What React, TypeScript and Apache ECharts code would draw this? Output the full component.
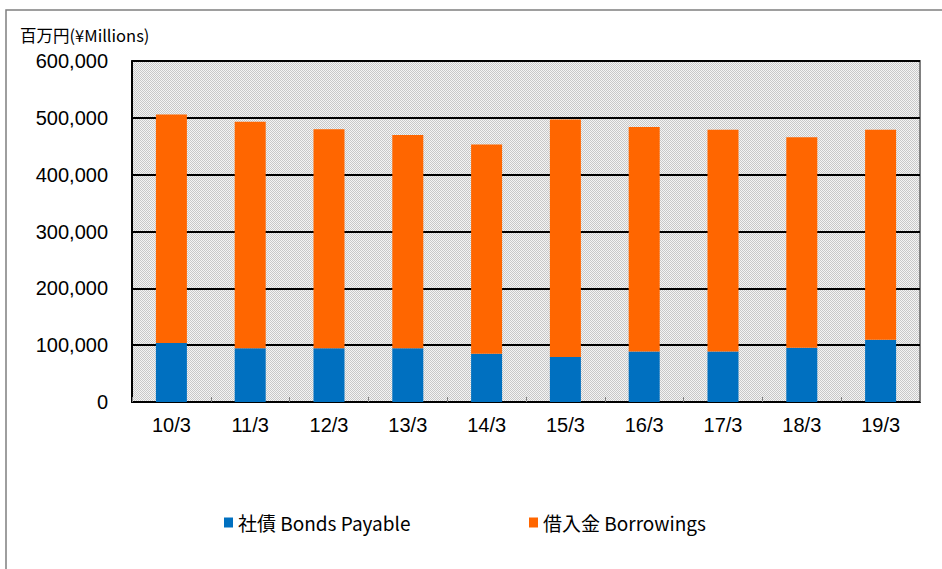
import React, { useEffect, useRef } from "react";
import * as echarts from "echarts";

const categories = ["10/3", "11/3", "12/3", "13/3", "14/3", "15/3", "16/3", "17/3", "18/3", "19/3"];
const bondsPayable = [104000, 94500, 94500, 94500, 85000, 79000, 89000, 89000, 95500, 109500];
const borrowings = [402000, 398500, 385500, 375500, 368000, 418000, 395000, 390000, 370500, 369500];
const yTicks = { min: 0, max: 600000, interval: 100000 };
const unitLabel = "百万円(¥Millions)";
const seriesNames = ["社債 Bonds Payable", "借入金 Borrowings"];

function makePattern(): HTMLCanvasElement {
  const c = document.createElement("canvas");
  c.width = 2;
  c.height = 2;
  const ctx = c.getContext("2d")!;
  ctx.fillStyle = "#f4f4f4";
  ctx.fillRect(0, 0, 2, 2);
  ctx.fillStyle = "#c8c8c8";
  ctx.fillRect(0, 0, 1, 1);
  ctx.fillRect(1, 1, 1, 1);
  return c;
}

export default function App() {
  const ref = useRef<HTMLDivElement>(null);
  useEffect(() => {
    if (!ref.current) return;
    const chart = echarts.init(ref.current, null, { renderer: "svg" });
    const font = "'Noto Sans CJK JP', 'Liberation Sans', Arial, sans-serif";
    const pattern = makePattern();
    chart.setOption({
      animation: false,
      backgroundColor: "#ffffff",
      title: {
        text: unitLabel,
        left: 15,
        top: 22,
        textStyle: { fontSize: 16.5, fontWeight: "normal", color: "#000", fontFamily: font },
      },
      graphic: [
        {
          type: "rect",
          shape: { x: 6, y: 10, width: 1000, height: 700 },
          style: { fill: "none", stroke: "#7f7f7f", lineWidth: 1.5 },
          silent: true,
          z: -10,
        },
      ],
      legend: [
        {
          data: [seriesNames[0]],
          left: 219,
          top: 508,
          icon: "rect",
          itemWidth: 9,
          itemHeight: 10,
          textStyle: { fontSize: 19, color: "#000", fontFamily: font },
        },
        {
          data: [seriesNames[1]],
          left: 524,
          top: 508,
          icon: "rect",
          itemWidth: 9,
          itemHeight: 10,
          textStyle: { fontSize: 19, color: "#000", fontFamily: font },
        },
      ],
      grid: {
        left: 132,
        right: 22,
        top: 61,
        bottom: 167,
        show: true,
        backgroundColor: { image: pattern, repeat: "repeat" },
        borderColor: "#808080",
        borderWidth: 2,
      },
      xAxis: {
        type: "category",
        data: categories,
        axisLine: { lineStyle: { color: "#000", width: 2 } },
        axisTick: { show: true, inside: true, length: 5, lineStyle: { color: "#808080" } },
        axisLabel: {
          color: "#000",
          fontSize: 20,
          margin: 13,
          fontFamily: "'Liberation Sans', Arial, sans-serif",
        },
      },
      yAxis: {
        type: "value",
        min: yTicks.min,
        max: yTicks.max,
        interval: yTicks.interval,
        axisLine: { show: true, lineStyle: { color: "#000", width: 2 } },
        axisTick: { show: false },
        splitLine: { show: true, lineStyle: { color: "#000", width: 2 } },
        axisLabel: {
          color: "#000",
          fontSize: 20,
          margin: 24,
          fontFamily: "'Liberation Sans', Arial, sans-serif",
          formatter: (v: number) => v.toLocaleString("en-US"),
        },
      },
      series: [
        {
          name: seriesNames[0],
          type: "bar",
          stack: "total",
          data: bondsPayable,
          barWidth: 31,
          itemStyle: { color: "#0070C0" },
        },
        {
          name: seriesNames[1],
          type: "bar",
          stack: "total",
          data: borrowings,
          barWidth: 31,
          itemStyle: { color: "#FF6600" },
        },
      ],
    });
    return () => chart.dispose();
  }, []);
  return (
    <div
      ref={ref}
      style={{ position: "fixed", left: 0, top: 0, width: 942, height: 569 }}
    />
  );
}
